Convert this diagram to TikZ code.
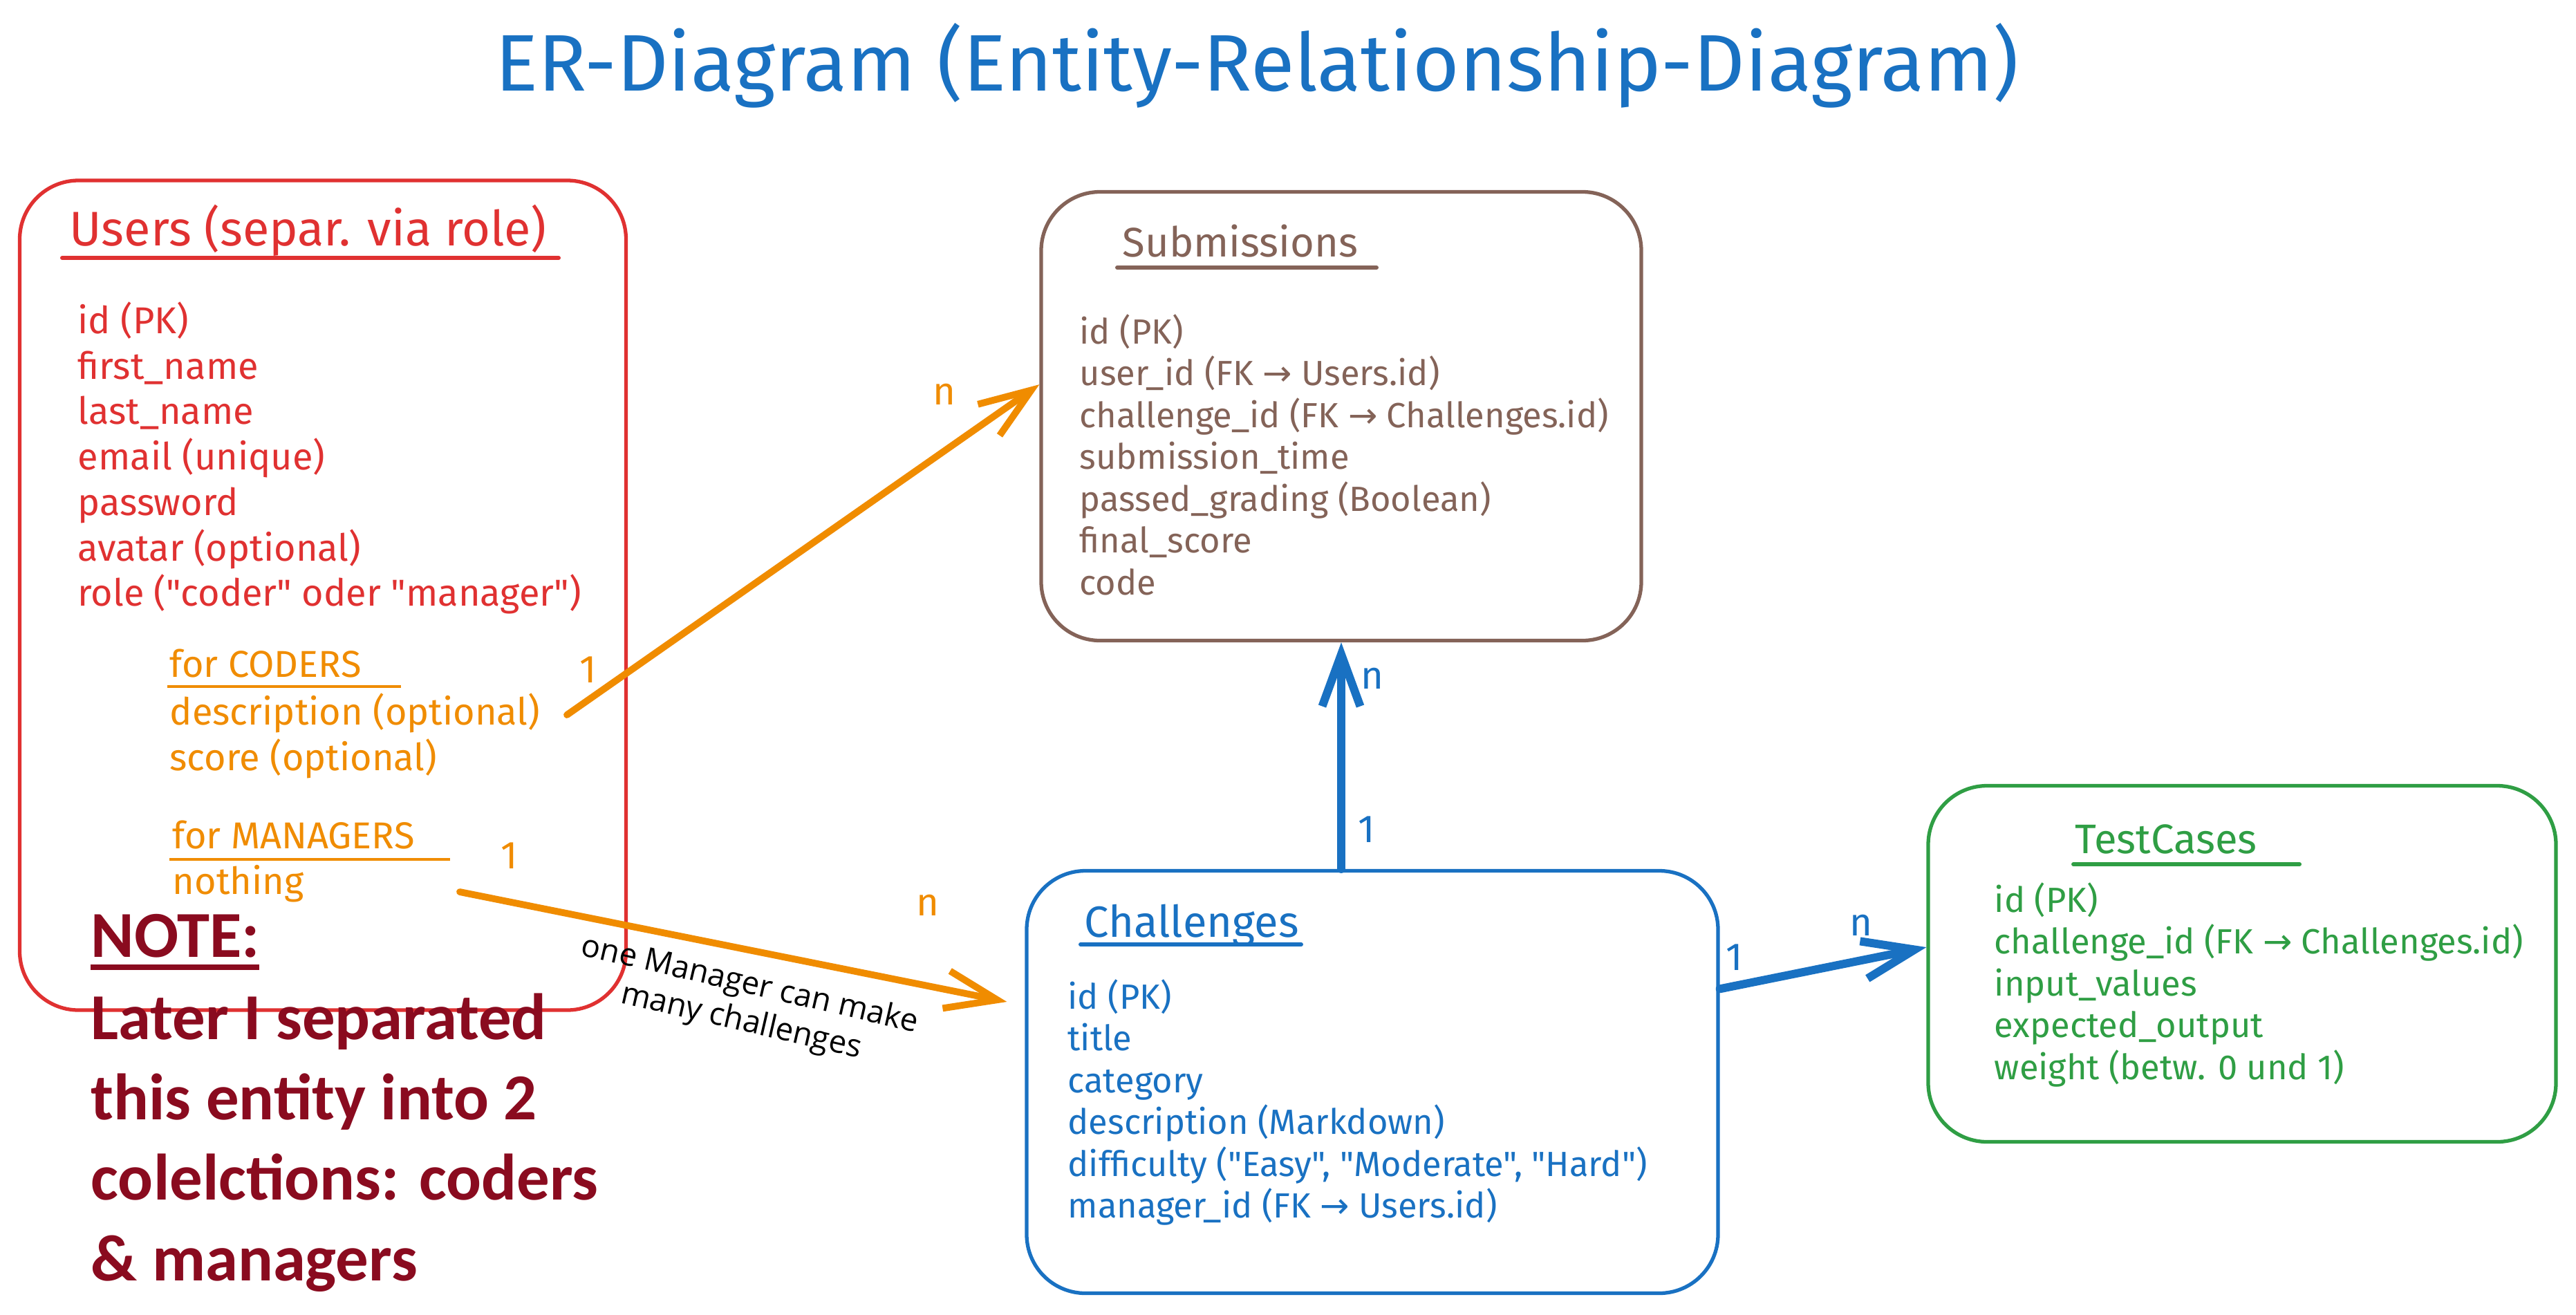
\documentclass[tikz,border=0pt]{standalone}
\usepackage{fontspec}
\setmainfont{Fira Sans}[Ligatures=TeXOff]
\newfontfamily\notefont{Carlito}
\newfontfamily\relfont{Open Sans}
\newfontfamily\arrowfont{DejaVu Sans}
\usetikzlibrary{arrows.meta}
\newcommand{\fkto}{{\arrowfont →}}

\definecolor{exred}{HTML}{E03131}
\definecolor{exorange}{HTML}{F08C00}
\definecolor{exbrown}{HTML}{846358}
\definecolor{exblue}{HTML}{1971C2}
\definecolor{exgreen}{HTML}{2F9E44}
\definecolor{notered}{HTML}{8A0B1F}

\tikzset{
  entity/.style={draw, line width=1.5pt, rounded corners=0.85cm},
  etitle/.style={anchor=west, inner sep=0pt, font=\fontsize{17}{20}\selectfont},
  attrs/.style={anchor=north west, inner sep=0pt, align=left, font=\fontsize{14.4}{17.2}\selectfont},
  uattrs/.style={anchor=north west, inner sep=0pt, align=left, font=\fontsize{15.4}{18.7}\selectfont},
  card/.style={inner sep=0pt, font=\fontsize{16}{18}\selectfont},
  rel/.style={line width=2.8pt, line cap=round, line join=round, -{Straight Barb[length=0.75cm,width=0.55cm]}},
  uline/.style={line width=1.7pt, line cap=round},
}

\begin{document}
\begin{tikzpicture}
\path [use as bounding box, fill=white] (0,0) rectangle (37.26,-19.01);

%Title
\node [inner sep=0pt, text=exblue, font=\fontsize{33}{38}\selectfont]
(ttl) at (18.18,-0.95) {ER-Diagram (Entity-Relationship-Diagram)};

%Users
\node [entity, draw=exred, minimum width=8.77cm, minimum height=12.0cm]
(us) at (4.67,-8.61) {};
\node [etitle, text=exred, font=\fontsize{20}{24}\selectfont] (ust) at (1.0,-3.33) {Users (separ. via role)};
\draw [uline, exred] (0.90,-3.73) -- (8.08,-3.73);
\node [uattrs, text=exred] (usa) at (1.12,-4.36)
{id (PK)\\first\_name\\last\_name\\email (unique)\\password\\avatar (optional)\\role ("coder" oder "manager")};
%for coders
\node [anchor=west, inner sep=0pt, text=exorange, font=\fontsize{15.4}{18.7}\selectfont]
(cod) at (2.45,-9.60) {for CODERS};
\draw [line width=1pt, exorange] (2.42,-9.93) -- (5.80,-9.93);
\node [uattrs, text=exorange] (coda) at (2.45,-10.02) {description (optional)\\score (optional)};
%for managers
\node [anchor=west, inner sep=0pt, text=exorange, font=\fontsize{15.4}{18.7}\selectfont]
(man) at (2.49,-12.07) {for MANAGERS};
\draw [line width=1pt, exorange] (2.45,-12.43) -- (6.51,-12.43);
\node [anchor=west, inner sep=0pt, text=exorange, font=\fontsize{15.4}{18.7}\selectfont]
(mana) at (2.49,-12.78) {nothing};

%Submissions
\node [entity, draw=exbrown, minimum width=8.68cm, minimum height=6.49cm]
(sub) at (19.40,-6.02) {};
\node [etitle, text=exbrown] (subt) at (16.23,-3.49) {Submissions};
\draw [uline, exbrown] (16.16,-3.87) -- (19.91,-3.87);
\node [attrs, text=exbrown] (suba) at (15.61,-4.54)
{id (PK)\\user\_id (FK \fkto{} Users.id)\\challenge\_id (FK \fkto{} Challenges.id)\\submission\_time\\passed\_grading (Boolean)\\final\_score\\code};

%Challenges
\node [entity, draw=exblue, minimum width=10.0cm, minimum height=6.11cm]
(chal) at (19.85,-15.65) {};
\node [etitle, text=exblue, font=\fontsize{18}{21}\selectfont] (chalt) at (15.68,-13.38) {Challenges};
\draw [uline, exblue] (15.63,-13.66) -- (18.82,-13.66);
\node [attrs, text=exblue] (chala) at (15.44,-14.16)
{id (PK)\\title\\category\\description (Markdown)\\difficulty ("Easy", "Moderate", "Hard")\\manager\_id (FK \fkto{} Users.id)};

%TestCases
\node [entity, draw=exgreen, minimum width=9.08cm, minimum height=5.15cm]
(tc) at (32.43,-13.94) {};
\node [etitle, text=exgreen] (tct) at (30.01,-12.14) {TestCases};
\draw [uline, exgreen] (29.99,-12.50) -- (33.26,-12.50);
\node [attrs, text=exgreen] (tca) at (28.84,-12.76)
{id (PK)\\challenge\_id (FK \fkto{} Challenges.id)\\input\_values\\expected\_output\\weight (betw. 0 und 1)};

%Note
\node [anchor=base west, inner sep=0pt, text=notered, font=\notefont\bfseries\fontsize{27}{33.1}\selectfont]
(nt) at (1.31,-13.84) {NOTE:};
\draw [line width=2.2pt, notered] (1.31,-13.99) -- (3.75,-13.99);
\node [anchor=north west, inner sep=0pt, align=left, text=notered, font=\notefont\bfseries\fontsize{27}{33.1}\selectfont]
(nb) at (1.31,-14.36) {Later I separated\\this entity into 2\\colelctions: coders\\\& managers};

%Relations
\coordinate (cd) at (8.20,-10.34);
\coordinate (mg) at (6.65,-12.90);
\draw [rel, exorange] (cd) -- (sub.174);
\draw [rel, exorange] (mg) -- ([xshift=-0.26cm]chal.167);
\draw [rel, exblue, line width=3.4pt] (sub.south |- chal.north) -- (sub.south);
\draw [rel, exblue, line width=3.4pt] (chal.15) -- (tc.177);

\node [rotate=-13, align=center, inner sep=0pt, font=\relfont\fontsize{13}{15.5}\selectfont]
(lbl) at (10.78,-14.52) {one Manager can make\\many challenges};

%Cardinalities
\node [card, text=exorange] (c1) at (8.51,-9.69) {1};
\node [card, text=exorange] (c2) at (13.66,-5.70) {n};
\node [card, text=exorange] (c3) at (7.37,-12.38) {1};
\node [card, text=exorange] (c4) at (13.42,-13.09) {n};
\node [card, text=exblue] (c5) at (19.85,-9.81) {n};
\node [card, text=exblue] (c6) at (19.77,-12.0) {1};
\node [card, text=exblue] (c7) at (25.09,-13.85) {1};
\node [card, text=exblue] (c8) at (26.92,-13.38) {n};
\end{tikzpicture}
\end{document}
